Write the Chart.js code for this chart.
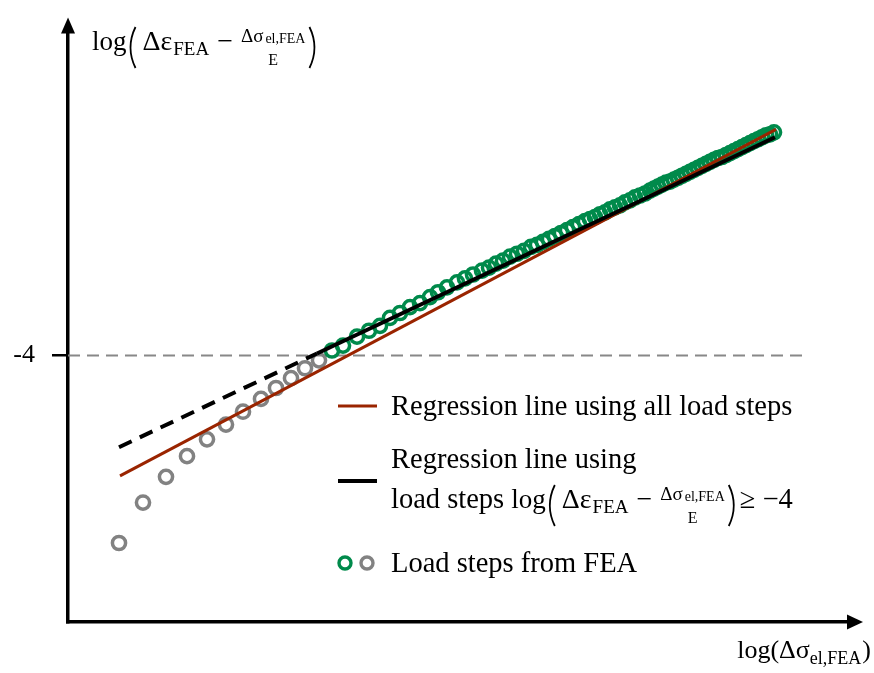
<!DOCTYPE html>
<html>
<head>
<meta charset="utf-8">
<script src="https://cdn.jsdelivr.net/npm/chart.js@4/dist/chart.umd.min.js"></script>
<style>
  html, body { margin: 0; padding: 0; background: #fff; overflow: hidden; }
  canvas { display: block; }
</style>
</head>
<body>
<canvas id="fea_chart" width="874" height="673"></canvas>
<script>
// Load steps below the threshold (grey)
var xGrey = [0.51, 0.75, 0.98, 1.19, 1.39, 1.58, 1.75, 1.93, 2.08, 2.23, 2.37, 2.51];
var yGrey = [-5.90, -5.49, -5.23, -5.02, -4.85, -4.70, -4.57, -4.44, -4.33, -4.23, -4.13, -4.05];

// Load steps at or above the threshold (green)
var xGreen = [2.64, 2.75, 2.89, 3.01, 3.12, 3.22, 3.32, 3.42, 3.52, 3.62, 3.70, 3.79, 3.89, 3.97, 4.05, 4.14,
  4.21, 4.28, 4.35, 4.42, 4.49, 4.56, 4.63, 4.69, 4.75, 4.81, 4.87, 4.93, 4.99, 5.05, 5.11, 5.17,
  5.22, 5.27, 5.32, 5.37, 5.42, 5.47, 5.52, 5.57, 5.62, 5.67, 5.72, 5.77, 5.82,
  5.86, 5.90, 5.94, 5.98, 6.02, 6.06, 6.10, 6.14, 6.18, 6.22, 6.26, 6.30, 6.34, 6.38, 6.42, 6.46,
  6.50, 6.54, 6.58, 6.62, 6.66, 6.70, 6.74, 6.78, 6.82, 6.86, 6.90, 6.94, 6.98, 7.02, 7.06];
var yGreen = [-3.95, -3.90, -3.81, -3.75, -3.70, -3.62, -3.57, -3.51, -3.47, -3.41, -3.36, -3.31, -3.26, -3.22, -3.18, -3.14,
  -3.11, -3.07, -3.04, -3.00, -2.97, -2.94, -2.90, -2.88, -2.85, -2.82, -2.79, -2.76, -2.73, -2.70, -2.67, -2.64,
  -2.62, -2.60, -2.57, -2.55, -2.52, -2.50, -2.48, -2.45, -2.43, -2.40, -2.38, -2.36, -2.33,
  -2.31, -2.29, -2.27, -2.25, -2.24, -2.22, -2.20, -2.18, -2.16, -2.14, -2.12, -2.10, -2.08, -2.06, -2.04, -2.02,
  -2.00, -1.99, -1.97, -1.95, -1.93, -1.91, -1.89, -1.87, -1.85, -1.83, -1.81, -1.79, -1.77, -1.76, -1.74];

// Regression lines (end points)
var xRegAll = [0.52, 7.08];
var yRegAll = [-5.22, -1.71];
var xRegFit = [0.51, 2.49, 7.07];
var yRegFit = [-4.93, -3.98, -1.79];

// Threshold
var yThreshold = -4;
var xThreshold = [0, 7.40];
var yTicks = [-4];

var FONT = "'Liberation Serif', 'Times New Roman', serif";
var RED = '#9a2400';
var GREEN = '#008a4b';
var GREY = '#828282';

function pts(xs, ys) {
  return xs.map(function (x, i) { return { x: x, y: ys[i] }; });
}

// ( and ) drawn as curves so they can span the fraction
function paren(ctx, x, top, bot, closing) {
  var mid = (top + bot) / 2;
  ctx.beginPath();
  if (closing) {
    ctx.moveTo(x, top);
    ctx.quadraticCurveTo(x + 10, mid, x, bot);
  } else {
    ctx.moveTo(x + 8, top);
    ctx.quadraticCurveTo(x - 2, mid, x + 8, bot);
  }
  ctx.lineWidth = 1.8;
  ctx.strokeStyle = '#000';
  ctx.stroke();
}

// log( Δε_FEA − Δσ_el,FEA / E )
function drawExpr(ctx, x, base) {
  ctx.textAlign = 'left';
  ctx.textBaseline = 'alphabetic';
  ctx.fillStyle = '#000';
  ctx.font = '27px ' + FONT;
  ctx.fillText('log', x, base);
  x += ctx.measureText('log').width + 1;
  paren(ctx, x, base - 23, base + 18, false);
  x += 15;
  ctx.font = '28px ' + FONT;
  ctx.fillText('Δε', x, base);
  x += ctx.measureText('Δε').width + 1;
  ctx.font = '19px ' + FONT;
  ctx.fillText('FEA', x, base + 5);
  x += ctx.measureText('FEA').width + 8;
  ctx.font = '28px ' + FONT;
  ctx.fillText('−', x, base);
  x += ctx.measureText('−').width + 8;
  ctx.font = '19px ' + FONT;
  var w1 = ctx.measureText('Δσ').width;
  ctx.fillText('Δσ', x, base - 8);
  ctx.font = '14px ' + FONT;
  var w2 = ctx.measureText('el,FEA').width;
  ctx.fillText('el,FEA', x + w1 + 2, base - 7);
  var numW = w1 + 2 + w2;
  ctx.font = '16px ' + FONT;
  var wE = ctx.measureText('E').width;
  ctx.fillText('E', x + numW / 2 - wE / 2, base + 15);
  x += numW + 4;
  paren(ctx, x, base - 23, base + 18, true);
  return x + 10;
}

var annotations = {
  id: 'annotations',
  afterDraw: function (chart) {
    var ctx = chart.ctx;
    var area = chart.chartArea;
    ctx.save();

    // arrow heads on both axes
    ctx.fillStyle = '#000';
    ctx.beginPath();
    ctx.moveTo(area.left, area.top - 15);
    ctx.lineTo(area.left - 7, area.top + 1);
    ctx.lineTo(area.left + 7, area.top + 1);
    ctx.closePath();
    ctx.fill();
    ctx.beginPath();
    ctx.moveTo(area.right + 15, area.bottom);
    ctx.lineTo(area.right - 1, area.bottom - 7.5);
    ctx.lineTo(area.right - 1, area.bottom + 7.5);
    ctx.closePath();
    ctx.fill();

    // y axis title
    drawExpr(ctx, 92, 50);

    // x axis title, right aligned
    ctx.font = '26px ' + FONT;
    var a = ctx.measureText('log(Δσ').width;
    var c = ctx.measureText(')').width;
    ctx.font = '18px ' + FONT;
    var b = ctx.measureText('el,FEA').width;
    var x0 = 871 - (a + b + c + 1);
    ctx.font = '26px ' + FONT;
    ctx.fillText('log(Δσ', x0, 658);
    ctx.fillText(')', x0 + a + b + 1, 658);
    ctx.font = '18px ' + FONT;
    ctx.fillText('el,FEA', x0 + a, 664);

    // legend
    var ds = chart.data.datasets;
    ctx.lineCap = 'butt';
    ctx.strokeStyle = ds[0].borderColor;
    ctx.lineWidth = 3;
    ctx.beginPath();
    ctx.moveTo(338, 406);
    ctx.lineTo(377, 406);
    ctx.stroke();
    ctx.strokeStyle = ds[1].borderColor;
    ctx.lineWidth = 4;
    ctx.beginPath();
    ctx.moveTo(338, 481);
    ctx.lineTo(377, 481);
    ctx.stroke();
    [[345, ds[2].pointBorderColor], [367, ds[3].pointBorderColor]].forEach(function (p) {
      ctx.beginPath();
      ctx.arc(p[0], 563, 6, 0, Math.PI * 2);
      ctx.lineWidth = 3.4;
      ctx.strokeStyle = p[1];
      ctx.stroke();
    });

    ctx.fillStyle = '#000';
    ctx.textAlign = 'left';
    ctx.textBaseline = 'alphabetic';
    ctx.font = '28.5px ' + FONT;
    ctx.fillText('Regression line using all load steps', 391, 415);
    ctx.fillText('Regression line using', 391, 468);
    ctx.fillText('load steps', 391, 508);
    var xe = drawExpr(ctx, 391 + ctx.measureText('load steps ').width, 508);
    ctx.font = '28.5px ' + FONT;
    ctx.fillText('≥ −4', xe + 1, 508);
    ctx.fillText('Load steps from FEA', 391, 572);
    ctx.restore();
  }
};

var ctx = document.getElementById('fea_chart').getContext('2d');
var chart = new Chart(ctx, {
  type: 'scatter',
  data: {
    datasets: [{
      label: 'Regression line using all load steps',
      data: pts(xRegAll, yRegAll),
      showLine: true,
      borderColor: RED,
      borderWidth: 3,
      pointRadius: 0,
      order: 1
    }, {
      label: 'Regression line using load steps >= -4',
      data: pts(xRegFit, yRegFit),
      showLine: true,
      borderColor: '#000000',
      borderWidth: 4,
      pointRadius: 0,
      segment: {
        borderDash: function (c) { return c.p1DataIndex === 1 ? [14, 9] : undefined; }
      },
      order: 0
    }, {
      label: 'Load steps from FEA',
      data: pts(xGreen, yGreen),
      pointRadius: 6.6,
      pointBorderWidth: 3.5,
      pointBorderColor: GREEN,
      pointBackgroundColor: 'rgba(0,0,0,0)',
      order: 2
    }, {
      label: 'Load steps below threshold',
      data: pts(xGrey, yGrey),
      pointRadius: 6.6,
      pointBorderWidth: 3.5,
      pointBorderColor: GREY,
      pointBackgroundColor: 'rgba(0,0,0,0)',
      order: 3
    }, {
      label: 'threshold',
      data: pts(xThreshold, [yThreshold, yThreshold]),
      showLine: true,
      borderColor: '#888888',
      borderWidth: 2,
      borderDash: [12, 7],
      pointRadius: 0,
      order: 4
    }]
  },
  options: {
    responsive: false,
    animation: false,
    devicePixelRatio: 1,
    layout: { padding: { left: 0, top: 25, right: 26, bottom: 51 } },
    plugins: { legend: { display: false }, tooltip: { enabled: false } },
    scales: {
      x: {
        type: 'linear',
        min: 0,
        max: 7.8,
        afterBuildTicks: function (s) { s.ticks = []; },
        afterFit: function (s) { s.height = 0; },
        ticks: { display: false },
        grid: { display: false },
        border: { display: true, color: '#000', width: 3.5 }
      },
      y: {
        type: 'linear',
        min: -6.7,
        max: -0.73,
        afterBuildTicks: function (s) { s.ticks = yTicks.map(function (v) { return { value: v }; }); },
        afterFit: function (s) { s.width = 68; },
        ticks: {
          color: '#000',
          padding: 17,
          font: { family: FONT, size: 26 },
          callback: function (v) { return String(v); }
        },
        grid: { display: true, drawOnChartArea: false, drawTicks: true, tickLength: 16, lineWidth: 2.5, color: '#000' },
        border: { display: true, color: '#000', width: 3.5 }
      }
    }
  },
  plugins: [annotations]
});
</script>
</body>
</html>
